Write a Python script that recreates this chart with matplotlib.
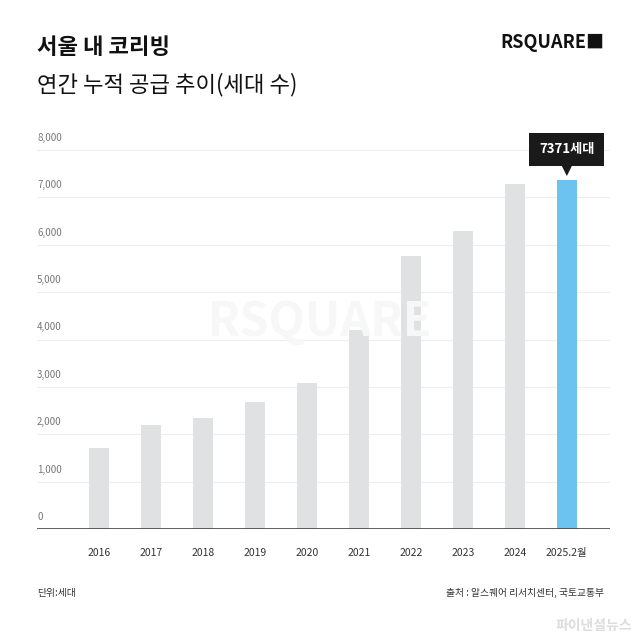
import matplotlib
matplotlib.use("Agg")
import matplotlib.pyplot as plt
from matplotlib.patches import Polygon

plt.rcParams["font.family"] = ["Noto Sans CJK JP", "Noto Sans CJK KR", "Noto Sans CJK SC", "DejaVu Sans"]

categories = ["2016", "2017", "2018", "2019", "2020", "2021", "2022", "2023", "2024", "2025.2월"]
values = [1720, 2200, 2340, 2680, 3090, 4200, 5770, 6280, 7280, 7371]
yticks = [0, 1000, 2000, 3000, 4000, 5000, 6000, 7000, 8000]

fig = plt.figure(figsize=(6.4, 6.36), dpi=100)
fig.patch.set_facecolor("white")
ax = fig.add_axes([37/640, (636-529)/636, (610-37)/640, (529-150)/636])
x = list(range(len(categories)))
colors = ["#dfe1e3"] * (len(values) - 1) + ["#6cc3ef"]
ax.bar(x, values, width=0.39, color=colors, zorder=2)
ax.set_xlim(-1.19, 9.83)
ax.set_ylim(0, 8000)
for t in yticks[1:]:
    ax.axhline(t, color="#eeeeee", lw=0.8, zorder=1)
for t in yticks:
    ax.text(-1.19, t + 150, f"{t:,}", fontsize=7, color="#777777", va="bottom", ha="left")
ax.axhline(0, color="#444444", lw=1.2, zorder=3)
for s in ax.spines.values():
    s.set_visible(False)
ax.set_yticks([])
ax.set_xticks(x)
ax.set_xticklabels(categories, fontsize=7.5, color="#333333")
ax.tick_params(axis="x", length=0, pad=14)

# callout
top = values[-1]
ax.add_patch(Polygon([[9 - 0.1, top + 300], [9 + 0.1, top + 300], [9, top + 80]],
                     closed=True, fc="#1a1a1a", ec="none", clip_on=False, zorder=4))
ax.text(9, top + 640, f"{top}세대", ha="center", va="center", fontsize=9.5, fontweight="bold",
        color="white", zorder=5,
        bbox=dict(boxstyle="square,pad=0.75", fc="#1a1a1a", ec="none"))

fig.text(37/640, 1 - 48/636, "서울 내 코리빙", fontsize=16, fontweight="bold", va="center", ha="left", color="#111111")
fig.text(37/640, 1 - 85/636, "연간 누적 공급 추이(세대 수)", fontsize=16, va="center", ha="left", color="#111111")
fig.text(604/640, 1 - 43/636, "RSQUARE■", fontsize=13, fontweight="bold", va="center", ha="right", color="#111111")
fig.text(0.5, 1 - 322/636, "RSQUARE", fontsize=34, fontweight="bold", va="center", ha="center", color="#f7f7f7", zorder=0)
fig.text(37/640, 1 - 593/636, "단위:세대", fontsize=7, va="center", ha="left", color="#333333")
fig.text(604/640, 1 - 593/636, "출처 : 알스퀘어 리서치센터, 국토교통부", fontsize=7, va="center", ha="right", color="#333333")
fig.text(632/640, 1 - 626/636, "파이낸셜뉴스", fontsize=10, fontweight="bold", va="center", ha="right", color="#dddddd")

fig.savefig("out.png", dpi=100, facecolor="white")
